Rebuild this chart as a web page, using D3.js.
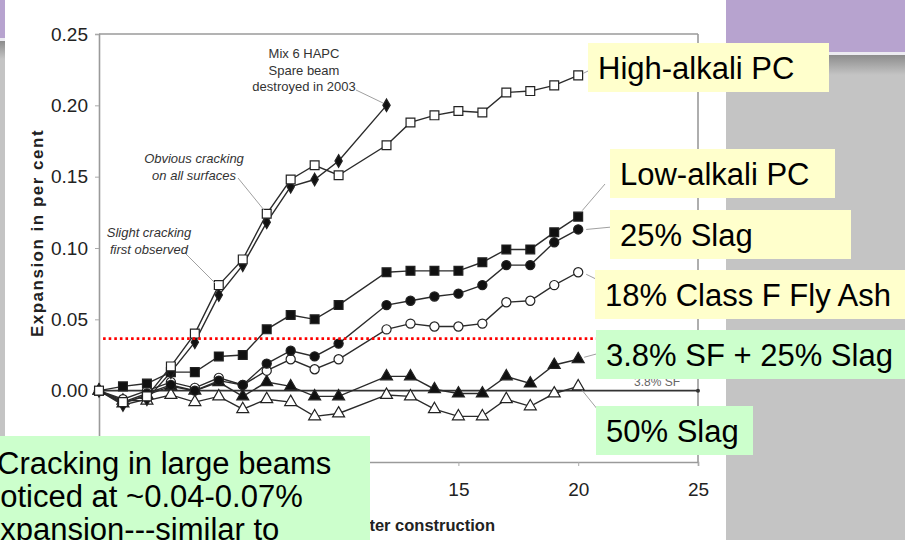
<!DOCTYPE html>
<html><head><meta charset="utf-8">
<script src="https://cdn.jsdelivr.net/npm/d3@7"></script>
<style>
html,body{margin:0;padding:0;background:#fff;overflow:hidden;}
svg{display:block;}
</style></head>
<body>
<svg id="c" width="905" height="540"></svg>
<script>
// ---------- data ----------
const years = [0,1,2,3,4,5,6,7,8,9,10,12,13,14,15,16,17,18,19,20];
const spareYears = [0,1,2,3,4,5,6,7,8,9,10,12];
const highAlkaliPC = [0,-0.008,-0.004,0.017,0.040,0.074,0.092,0.124,0.148,0.158,0.151,0.172,0.188,0.193,0.196,0.195,0.209,0.210,0.214,0.221];
const spareBeam = [0,-0.010,-0.006,0.013,0.034,0.067,0.088,0.118,0.143,0.148,0.161,0.200];
const lowAlkaliPC = [0,0.003,0.005,0.013,0.013,0.024,0.025,0.043,0.053,0.050,0.060,0.083,0.084,0.084,0.084,0.090,0.099,0.099,0.111,0.122];
const slag25 = [0,-0.008,-0.002,0.004,0.000,0.007,0.004,0.019,0.028,0.024,0.033,0.060,0.063,0.066,0.068,0.074,0.088,0.088,0.104,0.113];
const flyAsh18 = [0,-0.006,0.000,0.006,0.002,0.009,0.004,0.014,0.022,0.015,0.022,0.043,0.047,0.045,0.045,0.047,0.062,0.063,0.074,0.083];
const sfSlag = [0,-0.009,-0.003,0.003,0.000,0.006,-0.004,0.006,0.003,-0.004,-0.004,0.010,0.010,0.001,-0.002,-0.002,0.010,0.005,0.018,0.022];
const slag50 = [0,-0.007,-0.007,-0.003,-0.008,-0.004,-0.013,-0.006,-0.008,-0.018,-0.016,-0.003,-0.004,-0.013,-0.018,-0.018,-0.006,-0.011,-0.002,0.003];
const crackThreshold = 0.0365;
const yTicks = [-0.05,0,0.05,0.10,0.15,0.20,0.25];
const yTickLabels = ["","0.00","0.05","0.10","0.15","0.20","0.25"];   // -0.05 hidden behind the note box
const xTicks = [0,5,10,15,20,25];
const xTickLabels = ["","","","15","20","25"];                       // 0,5,10 hidden behind the note box
const labelTexts = ["High-alkali PC","Low-alkali PC","25% Slag","18% Class F Fly Ash","3.8% SF + 25% Slag","50% Slag"];
const noteLines = ["Cracking in large beams","noticed at ~0.04-0.07%","expansion---similar to"];

// ---------- setup ----------
const svg = d3.select("#c");
const x = d3.scaleLinear().domain([0,25]).range([99,698]);
const y = d3.scaleLinear().domain([-0.05,0.25]).range([462,34]);
const narrow = "'Liberation Sans Narrow','Arial Narrow','Liberation Sans',Arial,sans-serif";
const sans = "'Liberation Sans',Arial,Helvetica,sans-serif";

// background slide pieces
const defs = svg.append("defs");
const g1 = defs.append("linearGradient").attr("id","gshade").attr("x1",0).attr("y1",0).attr("x2",0).attr("y2",1);
g1.append("stop").attr("offset","0").attr("stop-color","#8c8c8c");
g1.append("stop").attr("offset","1").attr("stop-color","#c4c4c4");
svg.append("rect").attr("x",0).attr("y",0).attr("width",905).attr("height",540).attr("fill","#fff");
svg.append("rect").attr("x",726).attr("y",0).attr("width",179).attr("height",540).attr("fill","#c4c4c4");
svg.append("rect").attr("x",726).attr("y",0).attr("width",179).attr("height",52).attr("fill","#b7a3cf");
svg.append("rect").attr("x",726).attr("y",52).attr("width",179).attr("height",3).attr("fill","#ecebf1");
svg.append("rect").attr("x",726).attr("y",55).attr("width",179).attr("height",20).attr("fill","url(#gshade)");
svg.append("rect").attr("x",0).attr("y",0).attr("width",5).attr("height",540).attr("fill","#c4c4c4");
svg.append("rect").attr("x",0).attr("y",0).attr("width",5).attr("height",38).attr("fill","#b7a3cf");
svg.append("rect").attr("x",0).attr("y",38).attr("width",5).attr("height",3).attr("fill","#ecebf1");
svg.append("rect").attr("x",0).attr("y",41).attr("width",5).attr("height",18).attr("fill","url(#gshade)");

// ---------- axes ----------
const yAxis = svg.append("g").attr("transform",`translate(${x(0)},0)`)
  .call(d3.axisLeft(y).tickValues(yTicks).tickFormat((d,i)=>yTickLabels[i]).tickSize(4).tickPadding(7));
const xAxis = svg.append("g").attr("transform",`translate(0,${y(-0.05)})`)
  .call(d3.axisBottom(x).tickValues(xTicks).tickFormat((d,i)=>xTickLabels[i]).tickSize(4).tickPadding(17));
[yAxis,xAxis].forEach(a=>{
  a.select(".domain").attr("stroke","#9a9a9a").attr("stroke-width",1.6);
  a.selectAll(".tick line").attr("stroke","#aaa");
  a.selectAll(".tick text").attr("fill","#222").style("font-family",narrow).style("font-size","19px");
});
svg.append("line").attr("x1",x(0)).attr("x2",x(25)).attr("y1",y(0.25)).attr("y2",y(0.25)).attr("stroke","#9a9a9a").attr("stroke-width",1.6);
svg.append("line").attr("x1",x(25)).attr("x2",x(25)).attr("y1",y(0.25)).attr("y2",y(-0.05)).attr("stroke","#9a9a9a").attr("stroke-width",1.6);
svg.append("line").attr("x1",x(0)).attr("x2",x(25)).attr("y1",y(0)).attr("y2",y(0)).attr("stroke","#333").attr("stroke-width",1.8);
svg.append("circle").attr("cx",x(25)).attr("cy",y(0)).attr("r",2).attr("fill","#333");

// axis titles
svg.append("text").attr("transform",`translate(43,${233}) rotate(-90)`).attr("text-anchor","middle")
  .style("font-family",sans).style("font-weight","bold").style("font-size","17px").style("letter-spacing","1.5px")
  .attr("fill","#222").text("Expansion in per cent");
svg.append("text").attr("x",495).attr("y",531).attr("text-anchor","end")
  .style("font-family",narrow).style("font-weight","bold").style("font-size","16.5px").attr("fill","#222")
  .text("Time in years after construction");

// ---------- series ----------
const line = d3.line().x(d=>x(d[0])).y(d=>y(d[1]));
const series = [
  {name:"slag50", xs:years, ys:slag50, sym:d3.symbolTriangle, size:62, fill:"#fff"},
  {name:"sfSlag", xs:years, ys:sfSlag, sym:d3.symbolTriangle, size:62, fill:"#111"},
  {name:"flyAsh18", xs:years, ys:flyAsh18, sym:d3.symbolCircle, size:66, fill:"#fff"},
  {name:"slag25", xs:years, ys:slag25, sym:d3.symbolCircle, size:66, fill:"#111"},
  {name:"lowAlkaliPC", xs:years, ys:lowAlkaliPC, sym:d3.symbolSquare, size:78, fill:"#111"},
  {name:"spareBeam", xs:spareYears, ys:spareBeam, sym:d3.symbolDiamond, size:46, fill:"#111"},
  {name:"highAlkaliPC", xs:years, ys:highAlkaliPC, sym:d3.symbolSquare, size:78, fill:"#fff"}
];
series.forEach(s=>{
  const pts = s.xs.map((v,i)=>[v,s.ys[i]]);
  svg.append("path").datum(pts).attr("d",line).attr("fill","none").attr("stroke","#2b2b2b").attr("stroke-width",1.4);
});
series.forEach(s=>{
  const pts = s.xs.map((v,i)=>[v,s.ys[i]]);
  svg.append("g").selectAll("path").data(pts).join("path")
    .attr("d",d3.symbol().type(s.sym).size(s.size))
    .attr("transform",d=>`translate(${x(d[0])},${y(d[1])})`)
    .attr("fill",s.fill).attr("stroke","#222").attr("stroke-width",1.2);
});

// ---------- annotations in chart ----------
const leader = (x1,y1,x2,y2)=>svg.append("line").attr("x1",x1).attr("y1",y1).attr("x2",x2).attr("y2",y2).attr("stroke","#a0a0a0").attr("stroke-width",1);
leader(356,90,383,103);
leader(238,178,264,210);
leader(185,253,215,283);
leader(x(20)+5,y(0.221)-2,x(20)+12,y(0.222)-4);
leader(x(20)+4,y(0.122)-6,605,184);
leader(x(20)+8,y(0.113),612,227);
leader(x(20)+8,y(0.083)+2,600,281);
leader(x(20)+6,y(0.022)-2,600,353);
leader(x(20)+4,y(0.003)+4,598,410);

function noteText(lines, cx, y0, dy, italic){
  const t = svg.append("text").attr("text-anchor","middle").style("font-family",narrow)
    .style("font-size","13px").style("font-style",italic?"italic":"normal").attr("fill","#333");
  lines.forEach((l,i)=>t.append("tspan").attr("x",cx).attr("y",y0+i*dy).text(l));
}
noteText(["Mix 6 HAPC","Spare beam","destroyed in 2003"],304,58,16.5,false);
noteText(["Obvious cracking","on all surfaces"],194,163,17,true);
noteText(["Slight cracking","first observed"],149,237,16.5,true);
svg.append("text").attr("x",657).attr("y",386).attr("text-anchor","middle").style("font-family",narrow)
  .style("font-size","12px").attr("fill","#666").text("3.8% SF");

// red threshold line
svg.append("line").attr("x1",x(0.17)).attr("x2",x(21.0)).attr("y1",y(crackThreshold)).attr("y2",y(crackThreshold))
  .attr("stroke","#ff0000").attr("stroke-width",2.6).attr("stroke-dasharray","2.6,3");

// ---------- slide label boxes ----------
const boxes = [
  {t:labelTexts[0], x:588, y:43, w:241, h:49, c:"#ffffcc"},
  {t:labelTexts[1], x:610, y:149, w:225, h:49, c:"#ffffcc"},
  {t:labelTexts[2], x:610, y:210, w:241, h:49, c:"#ffffcc"},
  {t:labelTexts[3], x:595, y:270, w:320, h:49, c:"#ffffcc"},
  {t:labelTexts[4], x:596, y:330, w:320, h:49, c:"#ccffcc"},
  {t:labelTexts[5], x:596, y:406, w:157, h:49, c:"#ccffcc"}
];
boxes.forEach(b=>{
  svg.append("rect").attr("x",b.x).attr("y",b.y).attr("width",b.w).attr("height",b.h).attr("fill",b.c);
  svg.append("text").attr("x",b.x+10).attr("y",b.y+36).style("font-family",sans).style("font-size","31px")
    .attr("fill","#000").text(b.t);
});
svg.append("rect").attr("x",0).attr("y",436).attr("width",370).attr("height",104).attr("fill","#ccffcc");
const nt = svg.append("text").style("font-family",sans).style("font-size","31px").attr("fill","#000");
noteLines.forEach((l,i)=>nt.append("tspan").attr("x",i===0?-3:-17).attr("y",474+i*33).text(l));
</script>
</body></html>
